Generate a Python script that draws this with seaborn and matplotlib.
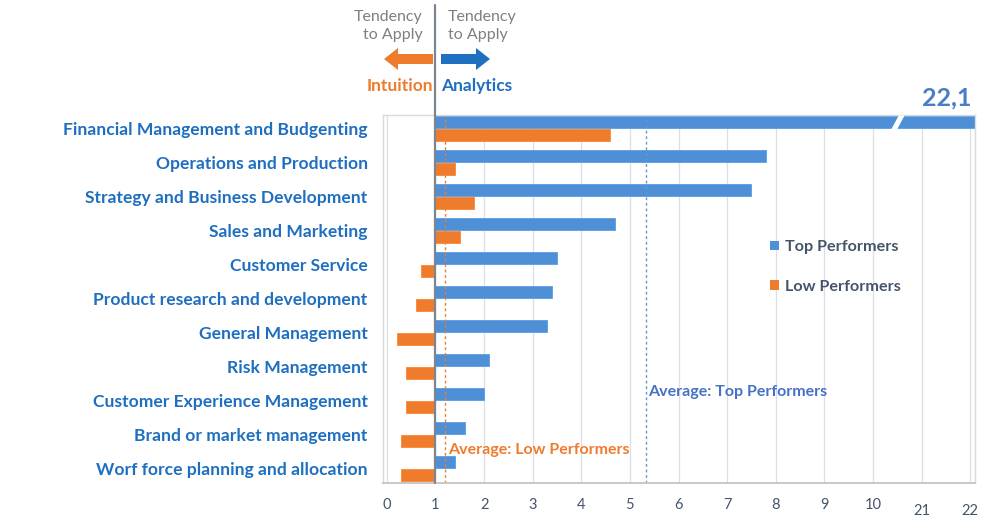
import numpy as np
import pandas as pd
import matplotlib
matplotlib.use("Agg")
import matplotlib.pyplot as plt
import matplotlib.transforms as mtransforms
from matplotlib.patches import Patch, Polygon, FancyArrow
import seaborn as sns

# ---------------- data ----------------
categories = [
    "Financial Management and Budgenting",
    "Operations and Production",
    "Strategy and Business Development",
    "Sales and Marketing",
    "Customer Service",
    "Product research and development",
    "General Management",
    "Risk Management",
    "Customer Experience Management",
    "Brand or market management",
    "Worf force planning and allocation",
]
top_performers = [22.1, 7.8, 7.5, 4.7, 3.5, 3.4, 3.3, 2.1, 2.0, 1.6, 1.4]
low_performers = [4.6, 1.4, 1.8, 1.5, 0.7, 0.6, 0.2, 0.4, 0.4, 0.3, 0.3]
series_names = ["Top Performers", "Low Performers"]
tick_values = list(range(0, 13))
tick_labels = ["0", "1", "2", "3", "4", "5", "6", "7", "8", "9", "10", "21", "22"]
avg_top = 5.33
avg_low = 1.2
baseline = 1.0
break_offset = 10  # values above 20 are drawn on the broken part of the axis

BLUE = "#4F8FD6"
ORANGE = "#EF7B2C"
LABEL_BLUE = "#1F6FC1"
SLATE = "#44546A"

sns.set_theme(style="white")
plt.rcParams["font.family"] = ["Lato", "DejaVu Sans"]


def to_axis(v):
    return v - break_offset if v > 20 else v


n = len(categories)
df = pd.DataFrame({
    "Category": categories * 2,
    "Group": [series_names[0]] * n + [series_names[1]] * n,
    "Value": top_performers + low_performers,
})
df["Shift"] = df["Value"].map(to_axis) - baseline

fig = plt.figure(figsize=(10, 5.19), dpi=100)
ax = fig.add_axes([0.383, 0.069, 0.592, 0.709])

sns.barplot(data=df, y="Category", x="Shift", hue="Group", hue_order=series_names,
            palette=[BLUE, ORANGE], orient="h", width=0.76, gap=0.08,
            errorbar=None, legend=False, ax=ax, linewidth=0.6,
            edgecolor="#ffffff", saturation=1)

for p in ax.patches:
    fc = p.get_facecolor()
    p.set_edgecolor(tuple(min(1, c * 1.1) for c in fc[:3]))

ax.set_xlim(-1.08, 11.1)
ax.set_ylim(10.43, -0.4)
ax.set_xticks([t - baseline for t in tick_values])
ax.set_xticklabels(tick_labels)
ax.set_xlabel("")
ax.set_ylabel("")
ax.tick_params(axis="x", length=0, pad=11, labelsize=10.5, labelcolor=SLATE)
ax.tick_params(axis="y", length=0, pad=11, labelsize=12.6, labelcolor=LABEL_BLUE)
for lab in ax.get_yticklabels():
    lab.set_fontweight("bold")
for lab in ax.get_xticklabels()[-2:]:
    lab.set_y(-0.015)

ax.grid(axis="x", color="#DCDFEA", linewidth=0.9)
ax.grid(axis="y", visible=False)
ax.set_axisbelow(True)
for s in ax.spines.values():
    s.set_color("#DADADA")
    s.set_linewidth(1.0)
ax.spines["bottom"].set_color("#C8C8C8")
ax.spines["bottom"].set_linewidth(1.4)

# average lines
ax.axvline(avg_top - baseline, color="#5B9BD5", ls=(0, (2, 2)), lw=1.0, zorder=1)
ax.axvline(avg_low - baseline, color=ORANGE, ls=(0, (2, 2)), lw=1.0, zorder=1)

# baseline (extends above the plot)
trans = mtransforms.blended_transform_factory(ax.transData, ax.transAxes)
ax.plot([0, 0], [0, 1.299], transform=trans, color="#7F8590", lw=1.6,
        clip_on=False, zorder=5)

# axis break on the largest bar
y0 = -0.19
h = 0.2
bx = 10.38 - baseline
brk = Polygon([[bx, y0 + h], [bx + 0.12, y0 + h], [bx + 0.27, y0 - h], [bx + 0.15, y0 - h]],
              closed=True, facecolor="white", edgecolor="none", zorder=6)
ax.add_patch(brk)

ax.text(to_axis(top_performers[0]) - baseline - 0.58, -0.92, "22,1", color="#4A7EC4",
        fontsize=18, fontweight="bold", ha="center", va="center", clip_on=False)

ax.text(avg_top - baseline + 0.05, 7.75, "Average: Top Performers", color="#4472C4",
        fontsize=11.5, fontweight="bold", ha="left", va="center")
ax.text(avg_low - baseline + 0.05, 9.45, "Average: Low Performers", color=ORANGE,
        fontsize=11.5, fontweight="bold", ha="left", va="center")

# legend
handles = [Patch(facecolor=BLUE, edgecolor="none"), Patch(facecolor=ORANGE, edgecolor="none")]
leg = fig.legend(handles, series_names, loc="upper left", bbox_to_anchor=(0.762, 1 - 232 / 519),
                 frameon=False, fontsize=11.6, handlelength=0.55, handleheight=0.55,
                 handletextpad=0.4, labelspacing=1.6, borderpad=0)
for t in leg.get_texts():
    t.set_color(SLATE)
    t.set_fontweight("bold")


# header
def fx(px):
    return px / 1000


def fy(py):
    return 1 - py / 519


fig.text(fx(423), fy(26), "Tendency\nto Apply", ha="right", va="center", fontsize=11.5,
         color="#7F7F7F", linespacing=1.45, multialignment="right")
fig.text(fx(448), fy(26), "Tendency\nto Apply", ha="left", va="center", fontsize=11.5,
         color="#7F7F7F", linespacing=1.45, multialignment="left")
fig.patches.append(FancyArrow(fx(433), fy(59), -(433 - 384) / 1000, 0, width=10 / 519,
                              head_width=22 / 519, head_length=14 / 1000,
                              length_includes_head=True, transform=fig.transFigure,
                              facecolor=ORANGE, edgecolor="none"))
fig.patches.append(FancyArrow(fx(441), fy(59), (490 - 441) / 1000, 0, width=10 / 519,
                              head_width=22 / 519, head_length=14 / 1000,
                              length_includes_head=True, transform=fig.transFigure,
                              facecolor="#1F70C1", edgecolor="none"))
fig.text(fx(433), fy(86), "Intuition", ha="right", va="center", fontsize=12.5,
         color=ORANGE, fontweight="bold")
fig.text(fx(441), fy(86), "Analytics", ha="left", va="center", fontsize=12.5,
         color=LABEL_BLUE, fontweight="bold")

fig.savefig("out.png", dpi=100, facecolor="white")
